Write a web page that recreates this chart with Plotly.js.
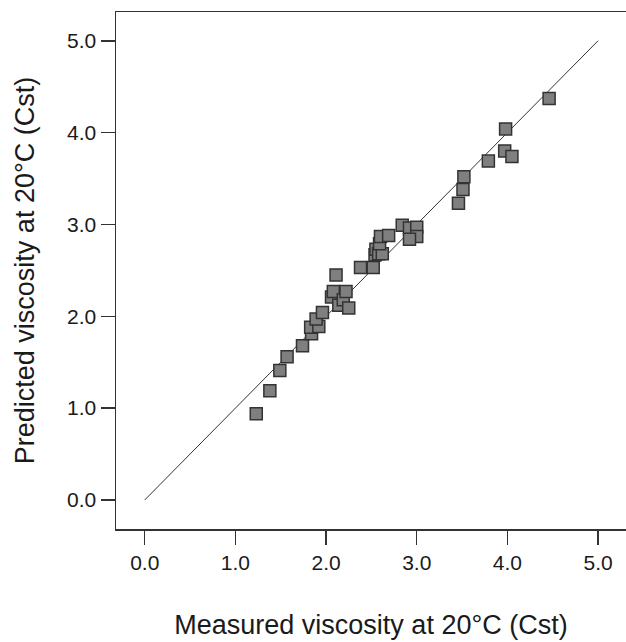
<!DOCTYPE html>
<html>
<head>
<meta charset="utf-8">
<script src="https://cdn.plot.ly/plotly-3.0.1.min.js"></script>
<style>html,body{margin:0;padding:0;background:#fff;}#chart{width:626px;height:642px;}</style>
</head>
<body>
<div id="chart"></div>
<script>
const measured = [1.23,1.38,1.49,1.57,1.74,1.84,1.83,1.92,1.89,1.96,2.06,2.08,2.11,2.14,2.19,2.22,2.25,2.38,2.52,2.54,2.55,2.58,2.62,2.59,2.60,2.69,2.84,2.92,3.00,3.00,2.92,3.46,3.51,3.52,3.79,3.97,4.05,3.98,4.46];
const predicted = [0.94,1.19,1.41,1.56,1.68,1.81,1.88,1.89,1.97,2.04,2.21,2.27,2.45,2.12,2.18,2.27,2.09,2.53,2.53,2.67,2.73,2.68,2.68,2.79,2.87,2.88,2.99,2.96,2.97,2.87,2.84,3.23,3.38,3.52,3.69,3.80,3.74,4.04,4.37];
const parityX = [0, 5];
const parityY = [0, 5];
const tickVals = [0,1,2,3,4,5];
const tickText = ['0.0','1.0','2.0','3.0','4.0','5.0'];

const font = 'Arial, "Liberation Sans", sans-serif';
const traces = [
  {x: parityX, y: parityY, mode: 'lines', line: {color: '#333', width: 1}, hoverinfo: 'skip', showlegend: false},
  {x: measured, y: predicted, mode: 'markers', showlegend: false,
   marker: {symbol: 'square', size: 12, color: '#7f7f7f', line: {color: '#333', width: 1.5}}}
];
const axisCommon = {
  tickvals: tickVals, ticktext: tickText,
  showgrid: false, zeroline: false, showline: true, linecolor: '#333', linewidth: 1.5,
  ticks: 'outside', ticklen: 14, tickwidth: 1.5, tickcolor: '#333',
  tickfont: {family: font, size: 21, color: '#1a1a1a'}
};
const layout = {
  width: 626, height: 642,
  margin: {l: 116, r: 0, t: 12, b: 113},
  paper_bgcolor: '#fff', plot_bgcolor: '#fff',
  xaxis: Object.assign({}, axisCommon, {mirror: true, range: [-0.317, 5.308],
    title: {text: 'Measured viscosity at 20°C (Cst)', font: {family: font, size: 27, color: '#1a1a1a'}, standoff: 42}}),
  yaxis: Object.assign({}, axisCommon, {range: [-0.316, 5.313],
    title: {text: 'Predicted viscosity at 20°C (Cst)', font: {family: font, size: 27, color: '#1a1a1a'}, standoff: 24}})
};
Plotly.newPlot('chart', traces, layout, {displayModeBar: false, staticPlot: true});
</script>
</body>
</html>
